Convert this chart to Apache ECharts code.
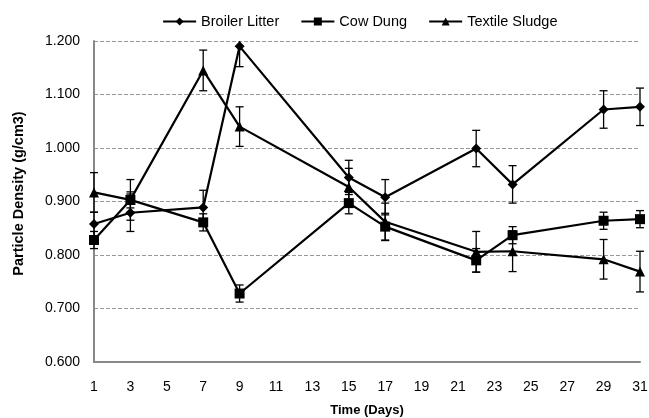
<!DOCTYPE html>
<html>
<head>
<meta charset="utf-8">
<script src="https://cdn.jsdelivr.net/npm/echarts@6/dist/echarts.min.js"></script>
<style>
  html, body { margin: 0; padding: 0; background: #fff; }
  #main { width: 649px; height: 418px; }
</style>
</head>
<body>
<div id="main"></div>
<script>
// sampling days
var days = [1, 3, 7, 9, 15, 17, 22, 24, 29, 31];
// particle density (g/cm3) and error (+/-)
var broiler = [0.858, 0.879, 0.889, 1.190, 0.945, 0.908, 0.999, 0.932, 1.072, 1.077];
var broilerErr = [0.022, 0.035, 0.032, 0.038, 0.032, 0.033, 0.034, 0.035, 0.035, 0.035];
var cow = [0.828, 0.903, 0.861, 0.728, 0.897, 0.853, 0.790, 0.837, 0.864, 0.867];
var cowErr = [0.016, 0.015, 0.016, 0.016, 0.020, 0.025, 0.022, 0.016, 0.016, 0.016];
var textile = [0.917, 0.903, 1.145, 1.040, 0.927, 0.862, 0.806, 0.807, 0.792, 0.769];
var textileErr = [0.037, 0.038, 0.038, 0.037, 0.035, 0.035, 0.038, 0.038, 0.037, 0.038];

var font = 'Liberation Sans, Arial, sans-serif';

function pairs(vals) {
  return days.map(function (d, i) { return [d, vals[i]]; });
}
function errData(vals, errs) {
  return days.map(function (d, i) { return [d, vals[i] - errs[i], vals[i] + errs[i]]; });
}
function renderErr(params, api) {
  var lo = api.coord([api.value(0), api.value(1)]);
  var hi = api.coord([api.value(0), api.value(2)]);
  var top = params.coordSys.y;
  var w = 4;
  var st = { stroke: '#000', lineWidth: 1.3 };
  var kids = [
    { type: 'line', shape: { x1: lo[0], y1: lo[1], x2: hi[0], y2: Math.max(hi[1], top) }, style: st },
    { type: 'line', shape: { x1: lo[0] - w, y1: lo[1], x2: lo[0] + w, y2: lo[1] }, style: st }
  ];
  // upper cap is cut off by the plot top, like the original
  if (hi[1] >= top) {
    kids.push({ type: 'line', shape: { x1: hi[0] - w, y1: hi[1], x2: hi[0] + w, y2: hi[1] }, style: st });
  }
  return { type: 'group', children: kids };
}
function lineSeries(name, vals, symbol, size) {
  return {
    name: name,
    type: 'line',
    data: pairs(vals),
    symbol: symbol,
    symbolSize: size,
    showAllSymbol: true,
    lineStyle: { color: '#000', width: 2.2 },
    itemStyle: { color: '#000' },
    z: 3
  };
}
function errSeries(vals, errs) {
  return {
    type: 'custom',
    renderItem: renderErr,
    data: errData(vals, errs),
    encode: { x: 0, y: [1, 2] },
    silent: true,
    z: 2
  };
}

var myChart = echarts.init(document.getElementById('main'));
myChart.setOption({
  animation: false,
  backgroundColor: '#fff',
  textStyle: { fontFamily: font },
  legend: {
    left: 157,
    top: 9,
    itemWidth: 33,
    itemHeight: 10,
    itemGap: 21,
    lineStyle: { width: 2.2 },
    textStyle: { fontFamily: font, fontSize: 14.5, color: '#000' },
    data: ['Broiler Litter', 'Cow Dung', 'Textile Sludge']
  },
  grid: { left: 94, right: 9, top: 41, bottom: 56, outerBoundsMode: 'none', containLabel: false },
  xAxis: {
    type: 'value',
    min: 1,
    max: 31,
    interval: 2,
    name: 'Time (Days)',
    nameLocation: 'middle',
    nameGap: 42,
    nameTextStyle: { fontFamily: font, fontSize: 13, fontWeight: 'bold', color: '#000' },
    axisLine: { lineStyle: { color: '#888', width: 2 } },
    axisTick: { show: false },
    axisLabel: { fontFamily: font, fontSize: 14, color: '#000', margin: 18 },
    splitLine: { show: false }
  },
  yAxis: {
    type: 'value',
    min: 0.6,
    max: 1.2,
    interval: 0.1,
    name: 'Particle Density (g/cm3)',
    nameLocation: 'middle',
    nameGap: 68,
    nameTextStyle: {
      fontFamily: font, fontSize: 14.5, fontWeight: 'bold', color: '#000',
      padding: [0, 0, 0, 16]
    },
    axisLine: { show: true, lineStyle: { color: '#888', width: 2 } },
    axisTick: { show: false },
    axisLabel: {
      fontFamily: font, fontSize: 14, color: '#000', margin: 14,
      formatter: function (v) { return v.toFixed(3); }
    },
    splitLine: { show: true, lineStyle: { color: '#999', type: [4, 2], width: 1 } }
  },
  series: [
    lineSeries('Broiler Litter', broiler, 'diamond', 10),
    lineSeries('Cow Dung', cow, 'rect', 10),
    lineSeries('Textile Sludge', textile, 'triangle', 10),
    errSeries(broiler, broilerErr),
    errSeries(cow, cowErr),
    errSeries(textile, textileErr)
  ]
});
</script>
</body>
</html>
